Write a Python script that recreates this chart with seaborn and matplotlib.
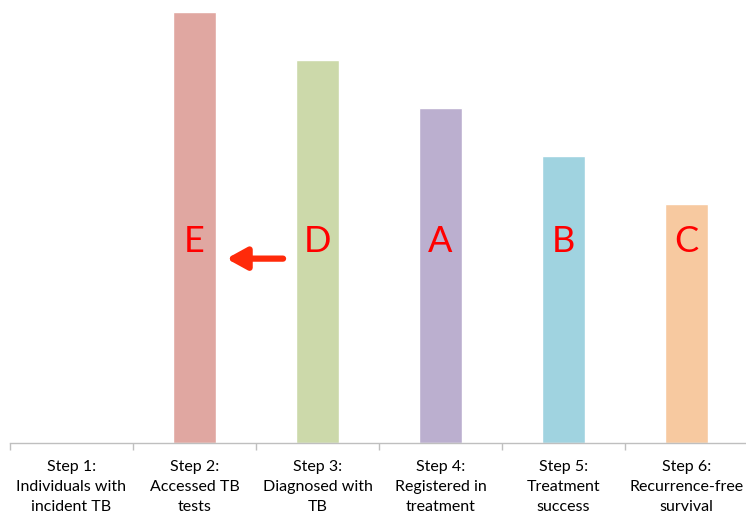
import matplotlib
matplotlib.use("Agg")
import matplotlib.pyplot as plt
import seaborn as sns
import pandas as pd
import numpy as np

steps = ["Step 1:\nIndividuals with\nincident TB",
         "Step 2:\nAccessed TB\ntests",
         "Step 3:\nDiagnosed with\nTB",
         "Step 4:\nRegistered in\ntreatment",
         "Step 5:\nTreatment\nsuccess",
         "Step 6:\nRecurrence-free\nsurvival"]
values = [0, 9, 8, 7, 6, 5]
letters = ["", "E", "D", "A", "B", "C"]
colors = ["#FFFFFF", "#E0A7A1", "#CCD9AA", "#BBAFCF", "#A0D3E0", "#F7C9A0"]

sns.set_theme(style="white")
plt.rcParams["font.family"] = ["Lato", "DejaVu Sans"]

df = pd.DataFrame({"step": steps, "value": values})

fig = plt.figure(figsize=(7.46, 5.17), dpi=100)
ax = fig.add_axes([10 / 746, (517 - 443) / 517, 738 / 746, 431 / 517])

sns.barplot(data=df, x="step", y="value", hue="step", palette=colors,
            width=0.345, legend=False, ax=ax, saturation=1)

ax.set_ylim(0, 9)
ax.set_xlim(-0.5, len(steps) - 0.5)
for s in ["top", "right", "left"]:
    ax.spines[s].set_visible(False)
ax.spines["bottom"].set_color("#BFBFBF")
ax.spines["bottom"].set_linewidth(1.0)
ax.set_yticks([])
ax.set_xlabel("")
ax.set_ylabel("")

ax.set_xticks(range(len(steps)))
ax.set_xticklabels(steps, fontsize=11.5, color="#000000", linespacing=1.55)
ax.tick_params(axis="x", which="major", length=0, pad=12)
ax.set_xticks(np.arange(-0.5, len(steps), 1.0), minor=True)
ax.tick_params(axis="x", which="minor", length=5, color="#BFBFBF", width=1.0,
               direction="out", bottom=True)

# Letter labels centred on each bar
for i, letter in enumerate(letters):
    if letter:
        ax.text(i, 4.2, letter, ha="center", va="center", fontsize=26,
                color="#FF0000")

# Arrow from D pointing back to E
ax.annotate("", xy=(1.26, 3.85), xytext=(1.72, 3.85),
            arrowprops=dict(arrowstyle="-|>,head_length=1.0,head_width=0.55",
                            color="#FF2A0A", lw=4.5, shrinkA=0, shrinkB=0))

fig.savefig("out.png", dpi=100)
